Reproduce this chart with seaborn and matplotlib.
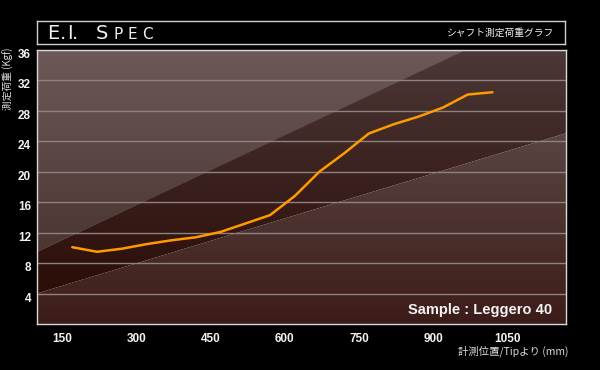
import seaborn as sns
import matplotlib.pyplot as plt
import matplotlib.transforms as mtransforms
from matplotlib.colors import LinearSegmentedColormap
from matplotlib.patches import Polygon
import numpy as np

# EI spec data
tip_mm = [170, 220, 270, 320, 370, 420, 470, 520, 570, 620, 670, 720, 770, 820, 870, 920, 970, 1020]
load_kgf = [10.1, 9.5, 9.9, 10.5, 11.0, 11.4, 12.1, 13.2, 14.3, 16.8, 20.0, 22.4, 25.0, 26.2, 27.2, 28.4, 30.1, 30.4]
x_ticks = [150, 300, 450, 600, 750, 900, 1050]
y_ticks = [4, 8, 12, 16, 20, 24, 28, 32, 36]

sns.set_theme(style="dark")
plt.rcParams['font.family'] = ['Liberation Sans', 'DejaVu Sans']
jp = ['Noto Sans CJK JP', 'DejaVu Sans']

fig = plt.figure(figsize=(6, 3.7), dpi=100, facecolor='black')
ax = fig.add_axes([37.3 / 600, 45.7 / 370, 529 / 600, 274.8 / 370])

x0, x1 = 99.2, 1169.4
ax.set_xlim(x0, x1)
ax.set_ylim(0, 36)

# background: three diagonal regions, each with a vertical gradient
x_top = x0 + (36 - 9.5) / 0.0305
y_low_right = 4.06 + 0.0196 * (x1 - x0)
regions = [
    ([(x0, 9.5), (x0, 36), (x_top, 36)], '#3f2926', '#6c5957'),
    ([(x0, 4.06), (x0, 9.5), (x_top, 36), (x1, 36), (x1, y_low_right)], '#280701', '#4b3837'),
    ([(x0, 0), (x0, 4.06), (x1, y_low_right), (x1, 0)], '#3c1c18', '#675754'),
]
grad = np.linspace(0, 1, 256)[:, None]
for verts, c_bot, c_top in regions:
    cmap = LinearSegmentedColormap.from_list('g', [c_bot, c_top])
    im = ax.imshow(grad, cmap=cmap, origin='lower', aspect='auto',
                   extent=(x0, x1, 0, 36), zorder=0)
    poly = Polygon(verts, closed=True, transform=ax.transData, facecolor='none', edgecolor='none')
    ax.add_patch(poly)
    im.set_clip_path(poly)

sns.lineplot(x=tip_mm, y=load_kgf, color='#ff9a00', linewidth=1.8, ax=ax, zorder=3)

ax.set_xticks(x_ticks)
ax.set_yticks(y_ticks)
ax.set_xticklabels([str(v) for v in x_ticks])
ax.set_yticklabels([str(v) for v in y_ticks])
ax.tick_params(axis='both', length=0, colors='#f2f2f2', labelsize=8.5)
ax.tick_params(axis='y', pad=4.5)
ax.tick_params(axis='x', pad=6.5)
for lab in ax.get_xticklabels() + ax.get_yticklabels():
    lab.set_fontweight('bold')
shift = mtransforms.ScaledTranslation(0, -3.5 / 100, fig.dpi_scale_trans)
for lab in ax.get_yticklabels():
    lab.set_transform(lab.get_transform() + shift)

ax.grid(False)
ax.yaxis.grid(True, color='#8e8280', linewidth=1)
ax.set_xlabel('')
ax.set_ylabel('')
for sp in ax.spines.values():
    sp.set_visible(True)
    sp.set_color('#d8d8d8')
    sp.set_linewidth(1)

ax.text(551.7 / 600, 56 / 370, 'Sample : Leggero 40', transform=fig.transFigure,
        ha='right', va='baseline', fontsize=10.5, fontweight='bold', color='#f4f4f4')

# title box
tax = fig.add_axes([37.1 / 600, (370 - 43.7) / 370, 527.8 / 600, 23 / 370])
tax.set_facecolor('black')
tax.set_xticks([])
tax.set_yticks([])
for sp in tax.spines.values():
    sp.set_visible(True)
    sp.set_color('#d0d0d0')
    sp.set_linewidth(1)

title_chars = ['E', '.', 'I', '.', 'S', 'P', 'E', 'C']
title_x = [53.6, 63.5, 69.5, 75, 102.3, 118, 132.5, 147.5]
title_size = [14, 14, 14, 14, 14, 11, 11, 11]
for ch, px, fs in zip(title_chars, title_x, title_size):
    fig.text(px / 600, (370 - 39) / 370, ch, ha='center', va='baseline',
             fontsize=fs, color='#f0f0f0', family='DejaVu Sans')

fig.text(553.8 / 600, (370 - 32.7) / 370, 'シャフト測定荷重グラフ', ha='right', va='center',
         fontsize=7, color='#f0f0f0', family=jp)
fig.text(8 / 600, (370 - 48) / 370, '測定荷重 (Kgf)', rotation=90, ha='center', va='top',
         fontsize=7, color='#dddddd', family=jp)
fig.text(569 / 600, (370 - 351) / 370, '計測位置/Tipより (mm)', ha='right', va='center',
         fontsize=7.5, color='#dddddd', family=jp)

fig.savefig('out.png', dpi=100, facecolor='black')
